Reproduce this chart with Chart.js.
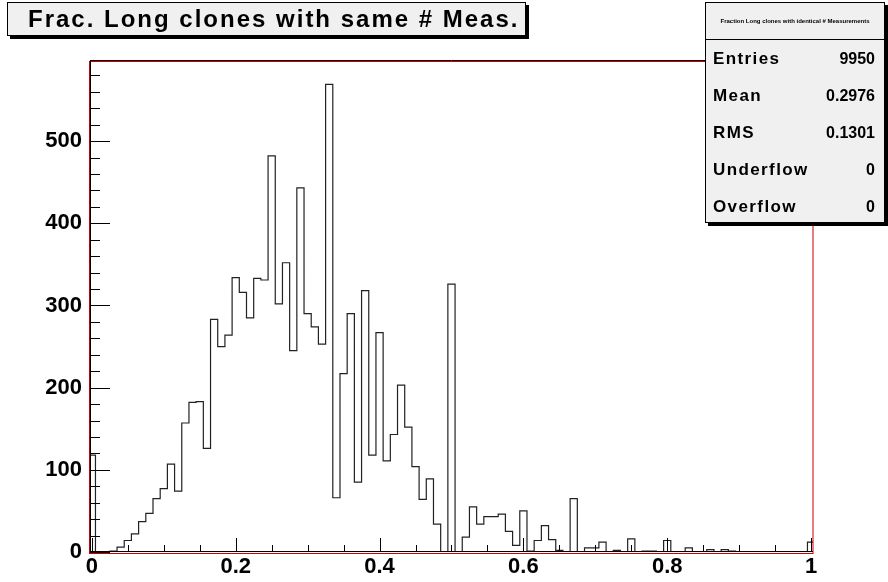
<!DOCTYPE html>
<html>
<head>
<meta charset="utf-8">
<script src="https://cdn.jsdelivr.net/npm/chart.js@4"></script>
<style>
  body { margin: 0; background: #fff; }
  #wrap { position: relative; width: 888px; height: 582px; font-family: "Liberation Sans", Arial, sans-serif; }
  #chart { position: absolute; left: 0; top: 0; }
  .box { position: absolute; background: #f0f0f0; border: 1px solid #000; box-shadow: 3px 3px 0 #000; box-sizing: border-box; }
  #title { left: 7px; top: 2px; width: 519px; height: 34px; font-weight: bold; font-size: 24px; letter-spacing: 2px; line-height: 32px; padding-left: 20px; white-space: nowrap; }
  #stats { left: 705px; top: 2px; width: 180px; height: 221px; font-weight: bold; }
  #stats .head { height: 36px; border-bottom: 1px solid #000; font-size: 6px; line-height: 36px; text-align: center; white-space: nowrap; }
  #stats .row { position: absolute; left: 7px; right: 9px; font-size: 16px; display: flex; justify-content: space-between; align-items: baseline; }
  #stats .row .lab { font-size: 17px; letter-spacing: 1.4px; }
</style>
</head>
<body>
<div id="wrap">
  <canvas id="chart" width="888" height="582"></canvas>
  <div id="title" class="box">Frac. Long clones with same # Meas.</div>
  <div id="stats" class="box">
    <div class="head">Fraction Long clones with identical # Measurements</div>
  </div>
</div>
<script>
// --- Data: bin contents, 101 bins centred on 0.00, 0.01, ... 1.00 ---
const BIN_LOW = -0.005;
const BIN_WIDTH = 0.01;
const COUNTS = [
    118, 0, 0, 1, 6, 14, 22, 37, 47, 65,
    77, 107, 74, 157, 182, 183, 126, 283, 250, 264,
    334, 316, 285, 333, 331, 482, 302, 352, 245, 443,
    290, 274, 253, 569, 66, 217, 290, 85, 318, 118,
    267, 111, 143, 203, 152, 104, 64, 89, 34, 0,
    326, 0, 18, 55, 34, 43, 43, 46, 25, 8,
    50, 1, 14, 32, 15, 2, 0, 65, 0, 5,
    5, 12, 0, 2, 0, 16, 0, 1, 1, 0,
    14, 0, 0, 5, 0, 0, 3, 0, 3, 1,
    0, 0, 0, 0, 0, 0, 0, 0, 0, 0,
    12
];

const X_TICKS = [0, 0.2, 0.4, 0.6, 0.8, 1];
const X_TICK_LABELS = ['0', '0.2', '0.4', '0.6', '0.8', '1'];
const Y_TICKS = [0, 100, 200, 300, 400, 500];
const Y_TICK_LABELS = ['0', '100', '200', '300', '400', '500'];

const STAT_LABELS = ['Entries', 'Mean', 'RMS', 'Underflow', 'Overflow'];
const STAT_VALUES = ['9950', '0.2976', '0.1301', '0', '0'];

// stats rows
const statsBox = document.getElementById('stats');
STAT_LABELS.forEach((lab, i) => {
    const row = document.createElement('div');
    row.className = 'row';
    row.style.top = (46 + i * 37) + 'px';
    row.innerHTML = `<span class="lab">${lab}</span><span>${STAT_VALUES[i]}</span>`;
    statsBox.appendChild(row);
});

// histogram outline: one point per bin low edge, value held until the next edge
const histPoints = [{ x: BIN_LOW, y: 0 }];
COUNTS.forEach((v, k) => histPoints.push({ x: BIN_LOW + k * BIN_WIDTH, y: v }));
histPoints.push({ x: BIN_LOW + COUNTS.length * BIN_WIDTH, y: COUNTS[COUNTS.length - 1] });
histPoints.push({ x: BIN_LOW + COUNTS.length * BIN_WIDTH, y: 0 });

const FONT = { family: '"Liberation Sans", Arial, sans-serif', size: 22, weight: 'bold' };

// ROOT style frame + inward ticks
const frameTicks = {
    id: 'frameTicks',
    afterDatasetsDraw(chart) {
        const { ctx, chartArea: a, scales: { x, y } } = chart;
        ctx.save();
        ctx.lineWidth = 1;
        ctx.strokeStyle = '#cc0000';
        ctx.strokeRect(a.left - 0.5, a.top + 0.5, a.right - a.left + 0.5, a.bottom - a.top + 1);
        ctx.strokeStyle = '#000';
        ctx.beginPath();
        ctx.moveTo(a.left, a.top - 0.5); ctx.lineTo(a.right, a.top - 0.5);
        ctx.moveTo(a.left + 0.5, a.top); ctx.lineTo(a.left + 0.5, a.bottom);
        ctx.moveTo(a.left, a.bottom - 0.5); ctx.lineTo(a.right, a.bottom - 0.5);
        // x ticks: major every 0.2, minor every 0.05
        for (let i = 0; i <= 20; i++) {
            const px = Math.round(x.getPixelForValue(i * 0.05)) + 0.5;
            const len = i % 4 === 0 ? 14 : 7;
            ctx.moveTo(px, a.bottom); ctx.lineTo(px, a.bottom - len);
        }
        // y ticks: major every 100, minor every 20
        for (let v = 0; v <= y.max; v += 20) {
            const py = Math.round(y.getPixelForValue(v)) + 0.5;
            const len = v % 100 === 0 ? 20 : 10;
            ctx.moveTo(a.left, py); ctx.lineTo(a.left + len, py);
        }
        ctx.stroke();
        ctx.restore();
    }
};

new Chart(document.getElementById('chart').getContext('2d'), {
    type: 'line',
    data: {
        datasets: [{
            data: histPoints,
            stepped: 'before',
            borderColor: '#222',
            borderWidth: 1.2,
            pointRadius: 0,
            fill: false,
            tension: 0
        }]
    },
    options: {
        responsive: false,
        animation: false,
        layout: { padding: { left: 0, top: 61, right: 75, bottom: 0 } },
        plugins: { legend: { display: false }, tooltip: { enabled: false } },
        scales: {
            x: {
                type: 'linear',
                min: -0.0026, max: 1.0027,
                grid: { display: false, drawTicks: false },
                border: { display: false },
                afterBuildTicks: s => { s.ticks = X_TICKS.map(v => ({ value: v })); },
                afterFit: s => { s.height = 30; },
                ticks: {
                    color: '#000', font: FONT, padding: 2, maxRotation: 0,
                    callback: v => X_TICK_LABELS[X_TICKS.indexOf(v)]
                }
            },
            y: {
                min: 0, max: 597.5,
                grid: { display: false, drawTicks: false },
                border: { display: false },
                afterBuildTicks: s => { s.ticks = Y_TICKS.map(v => ({ value: v })); },
                afterFit: s => { s.width = 90; },
                ticks: {
                    color: '#000', font: FONT, padding: 8,
                    callback: v => Y_TICK_LABELS[Y_TICKS.indexOf(v)]
                }
            }
        }
    },
    plugins: [frameTicks]
});
</script>
</body>
</html>
